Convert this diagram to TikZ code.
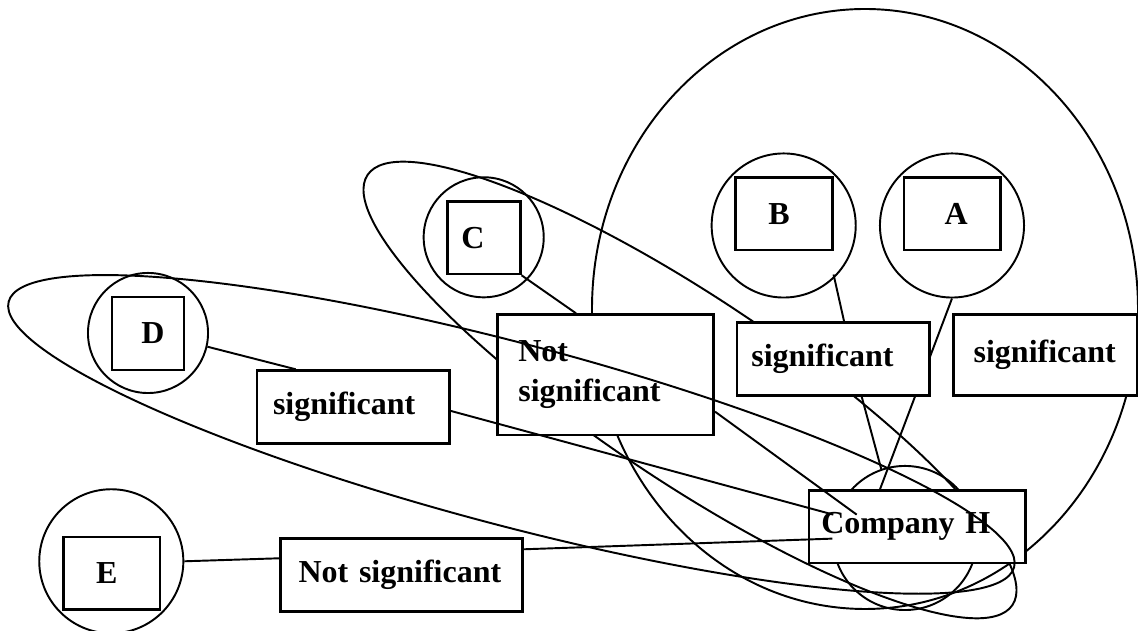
\documentclass[tikz,border=0pt]{standalone}
\usepackage{fontspec}
\setmainfont{Liberation Serif}
\usetikzlibrary{calc}

\begin{document}
\begin{tikzpicture}
	[x=0.01cm,y=-0.01cm,
	 every node/.style={font=\bfseries\fontsize{9.1}{11.4}\selectfont},
	 ring/.style={draw,circle,inner sep=0pt,line width=0.55pt},
	 letterbox/.style={draw,rectangle,inner sep=0pt,line width=0.7pt},
	 textbox/.style={draw,rectangle,fill=white,anchor=north west,align=left,inner ysep=0pt,line width=0.75pt},
	 link/.style={line width=0.55pt},
	 group/.style={line width=0.55pt}]
	\useasboundingbox (0,0) rectangle (1138,631);

	% groups lying behind the boxes
	\draw[group] (865,309) ellipse [x radius=273,y radius=300];
	\draw[group,rotate around={-33.7:(690,390)}] (690,390) ellipse [x radius=387.6,y radius=92];

	% companies
	\node[ring,minimum size=12mm] (circD) at (148,333) {};
	\node[letterbox,minimum width=7.2mm,minimum height=7.3mm] (sqD) at (148,333.5) {\hspace*{1mm}D};
	\node[ring,minimum size=14.4mm] (circE) at (111.3,561.3) {};
	\node[letterbox,minimum width=9.67mm,minimum height=7.2mm] (sqE) at (111.7,573.3) {E\hspace*{1mm}};
	\node[ring,minimum size=12mm] (circC) at (483.7,237.3) {};
	\node[letterbox,minimum width=7.26mm,minimum height=7.27mm] (sqC) at (484,237.7) {C\hspace*{2.2mm}};
	\node[ring,minimum size=14.4mm] (circB) at (783.7,225.5) {};
	\node[letterbox,minimum width=9.66mm,minimum height=7.23mm] (sqB) at (784,213.8) {B\hspace*{1mm}};
	\node[ring,minimum size=14.4mm] (circA) at (952,225.5) {};
	\node[letterbox,minimum width=9.67mm,minimum height=7.23mm] (sqA) at (952.3,213.8) {\hspace*{0.8mm}A};
	\node[ring,minimum size=14.4mm] (circH) at (905,538) {};
	\node[textbox,minimum height=7.24mm,inner xsep=1.23mm,text width=19.2mm] (compH) at (807.7,489.3) {Company H};

	% A goes behind the box of B
	\draw[link] (circA.south) -- ($(compH.north west)+(72.3,0)$);

	% verdicts
	\node[textbox,minimum height=7.27mm,inner xsep=1.6mm,text width=16.06mm] (sigD) at (255.7,369.3) {significant};
	\node[textbox,minimum height=7.27mm,inner xsep=1.8mm,text width=20.57mm] (nsE) at (279.3,537.3) {Not significant};
	\node[textbox,minimum height=12.04mm,inner xsep=2.1mm,text width=17.43mm] (nsC) at (496,313.3) {Not\\significant};
	\node[textbox,minimum height=7.3mm,inner xsep=1.43mm,text width=16.4mm] (sigB) at (735.7,321) {significant};
	\node[textbox,minimum height=8.07mm,inner xsep=2mm,text width=14.37mm] (sigA) at (952.3,313.3) {significant};

	% links
	\draw[link] (circD.-13) -- ($(sigD.north west)+(40,0)$);
	\draw[link] ($(sigD.north east)+(0,41.7)$) -- ($(compH.west)+(25.6,-12.2)$);
	\draw[link] (circE.east) -- ($(nsE.north west)+(0,21)$);
	\draw[link] ($(nsE.north east)+(0,12)$) -- ($(compH.west)+(24.6,11.8)$);
	\draw[link] (sqC.south east) -- ($(nsC.north west)+(80,0)$);
	\draw[link] ($(nsC.north east)+(0,98.4)$) -- ($(compH.west)+(49,-12.2)$);
	\draw[link] ($(sqB.south east)+(0,23.3)$) -- ($(sigB.north west)+(108.3,0)$);
	\draw[link] ($(sigB.south west)+(126,0)$) -- (circH.109);

	% group of D on top
	\draw[group,rotate around={-14.8:(511.4,434.4)}] (511.4,434.4) ellipse [x radius=520,y radius=91];
\end{tikzpicture}
\end{document}
